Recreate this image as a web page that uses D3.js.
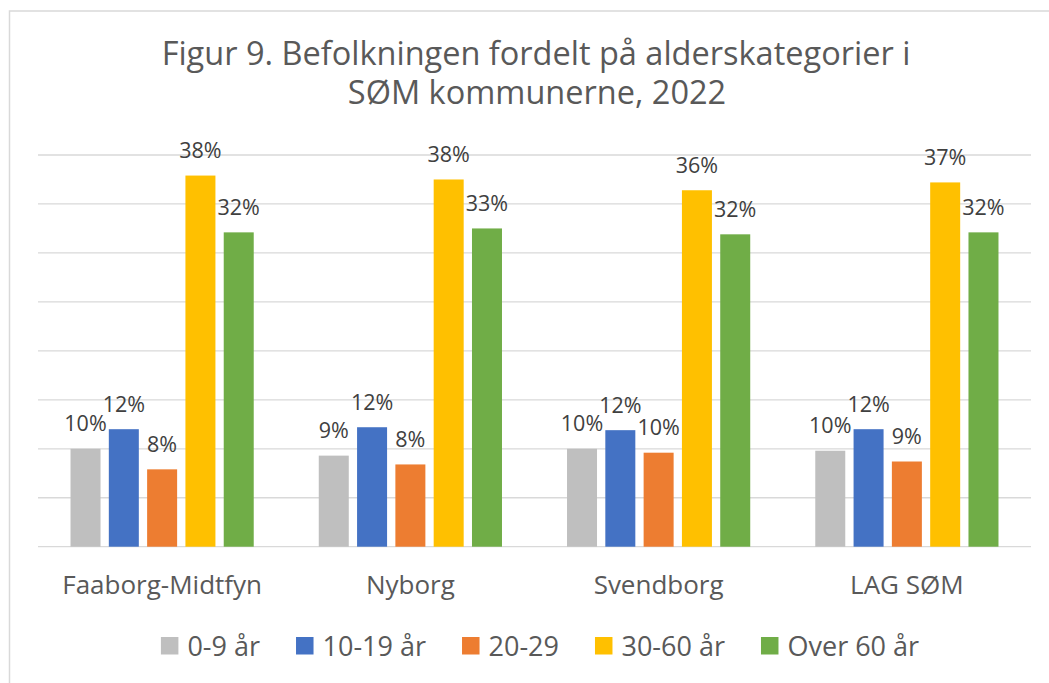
<!DOCTYPE html>
<html>
<head>
<meta charset="utf-8">
<script src="https://cdn.jsdelivr.net/npm/d3@7"></script>
<style>
  body { margin: 0; background: #fff; }
  svg { display: block; font-family: "Open Sans", sans-serif; }
</style>
</head>
<body>
<script>
// chart data
var categories = ["Faaborg-Midtfyn", "Nyborg", "Svendborg", "LAG SØM"];
var seriesNames = ["0-9 år", "10-19 år", "20-29", "30-60 år", "Over 60 år"];
var seriesColors = ["#bfbfbf", "#4472c4", "#ed7d31", "#ffc000", "#70ad47"];
// values in percent, one array per age group (same order as categories)
var age0_9 = [10.0, 9.3, 10.0, 9.8];
var age10_19 = [12.0, 12.2, 11.9, 12.0];
var age20_29 = [7.9, 8.4, 9.6, 8.7];
var age30_60 = [37.9, 37.5, 36.4, 37.2];
var over60 = [32.1, 32.5, 31.9, 32.1];
var seriesValues = [age0_9, age10_19, age20_29, age30_60, over60];
var yTicks = [0, 5, 10, 15, 20, 25, 30, 35, 40];

var width = 1049, height = 683;
var plot = { left: 38, right: 1031, top: 155, bottom: 546.7 };

var svg = d3.select("body").append("svg")
  .attr("width", width)
  .attr("height", height);

// outer frame (only left and top edges are visible in the crop)
svg.append("path")
  .attr("d", "M9.5,683 L9.5,11 L1049,11")
  .attr("fill", "none")
  .attr("stroke", "#d9d9d9")
  .attr("stroke-width", 1.5);

// title
var title = svg.append("text")
  .attr("text-anchor", "middle")
  .attr("fill", "#595959")
  .style("font-size", "32.5px");
title.append("tspan").attr("x", 536).attr("y", 65).text("Figur 9. Befolkningen fordelt på alderskategorier i");
title.append("tspan").attr("x", 537).attr("y", 104).text("SØM kommunerne, 2022");

// scales
var x0 = d3.scaleBand().domain(categories).range([plot.left, plot.right]).padding(0);
var x1 = d3.scaleBand().domain(seriesNames).range([0, x0.bandwidth()])
  .paddingInner(0.2167).paddingOuter(0.849);
var y = d3.scaleLinear().domain([0, 40]).range([plot.bottom, plot.top]);

// gridlines
svg.append("g").selectAll("line")
  .data(yTicks)
  .enter()
  .append("line")
  .attr("x1", plot.left)
  .attr("x2", plot.right)
  .attr("y1", function (d) { return y(d); })
  .attr("y2", function (d) { return y(d); })
  .attr("stroke", "#d9d9d9")
  .attr("stroke-width", 1.3);

// flatten for bars
var bars = [];
categories.forEach(function (c, ci) {
  seriesNames.forEach(function (s, si) {
    bars.push({ cat: c, series: s, si: si, value: seriesValues[si][ci] });
  });
});

svg.append("g").selectAll("rect")
  .data(bars)
  .enter()
  .append("rect")
  .attr("x", function (d) { return x0(d.cat) + x1(d.series); })
  .attr("y", function (d) { return y(d.value); })
  .attr("width", x1.bandwidth())
  .attr("height", function (d) { return y(0) - y(d.value); })
  .style("fill", function (d) { return seriesColors[d.si]; });

// data labels
svg.append("g").selectAll("text")
  .data(bars)
  .enter()
  .append("text")
  .attr("x", function (d) { return x0(d.cat) + x1(d.series) + x1.bandwidth() / 2; })
  .attr("y", function (d) { return y(d.value) - 17.5; })
  .attr("text-anchor", "middle")
  .attr("fill", "#404040")
  .style("font-size", "21.5px")
  .text(function (d) { return Math.round(d.value) + "%"; });

// category labels
svg.append("g").selectAll("text")
  .data(categories)
  .enter()
  .append("text")
  .attr("x", function (d) { return x0(d) + x0.bandwidth() / 2; })
  .attr("y", 594)
  .attr("text-anchor", "middle")
  .attr("fill", "#595959")
  .style("font-size", "26px")
  .text(function (d) { return d; });

// legend
var legend = svg.append("g");
var items = legend.selectAll("g")
  .data(seriesNames)
  .enter()
  .append("g");
items.append("rect")
  .attr("width", 17.5)
  .attr("height", 17.5)
  .attr("y", 637)
  .style("fill", function (d, i) { return seriesColors[i]; });
items.append("text")
  .attr("x", 26.5)
  .attr("y", 655.5)
  .attr("fill", "#595959")
  .style("font-size", "27px")
  .text(function (d) { return d; });

var offs = [], pos = 0;
items.each(function () {
  offs.push(pos);
  pos += 26.5 + this.querySelector("text").getComputedTextLength() + 36;
});
var total = pos - 36;
var startX = 540 - total / 2;
items.attr("transform", function (d, i) { return "translate(" + (startX + offs[i]) + ",0)"; });
</script>
</body>
</html>
